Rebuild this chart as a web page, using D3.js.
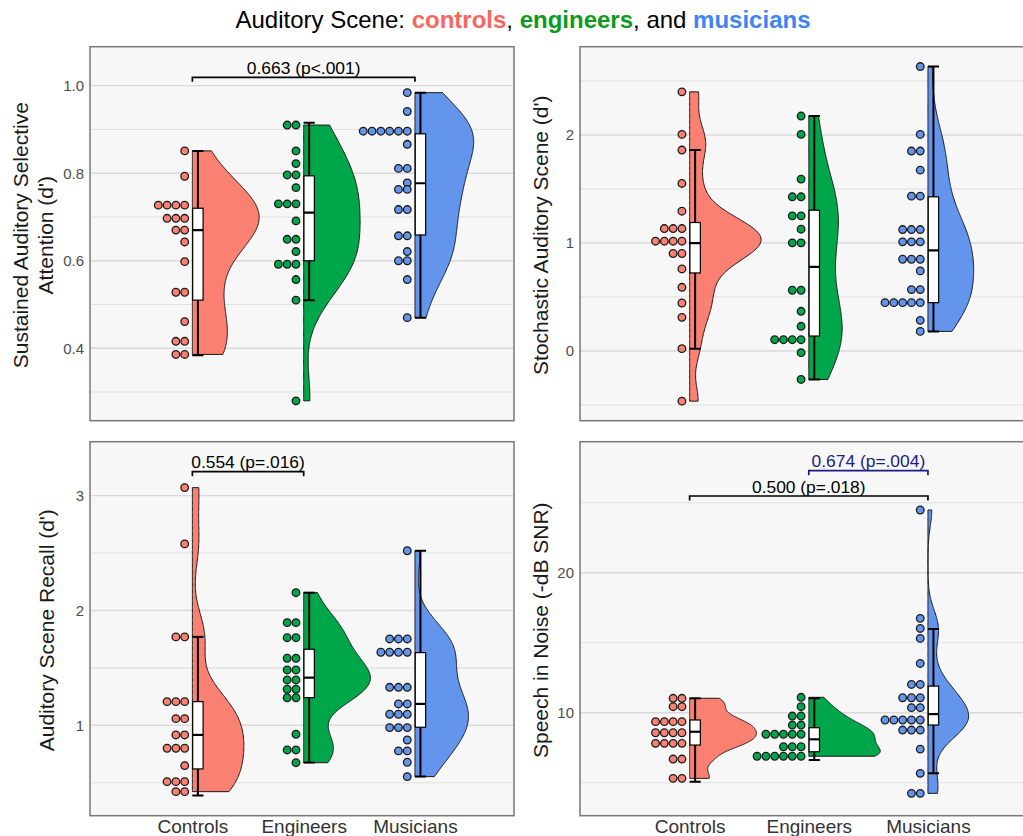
<!DOCTYPE html>
<html>
<head>
<meta charset="utf-8">
<script src="https://cdn.jsdelivr.net/npm/d3@7"></script>
<style>
  body { margin: 0; background: #fff; }
  text { font-family: "Liberation Sans", Arial, Helvetica, sans-serif; }
</style>
</head>
<body>
<svg id="chart" width="1023" height="836"></svg>
<script>
// GROUPS
var groups = ['Controls', 'Engineers', 'Musicians'];
var fills = ['#FA8072', '#00A64A', '#6495ED'];

// PANEL 1 - sustained auditory selective attention
var attnControls = [0.851, 0.793, 0.727, 0.727, 0.727, 0.727, 0.697, 0.697, 0.697, 0.670, 0.670,
	0.643, 0.598, 0.528, 0.528, 0.461, 0.416, 0.416, 0.386, 0.386];
var attnEngineers = [0.910, 0.910, 0.851, 0.822, 0.796, 0.796, 0.767, 0.730, 0.730, 0.730, 0.691,
	0.649, 0.649, 0.621, 0.592, 0.592, 0.592, 0.557, 0.510, 0.280];
var attnMusicians = [0.984, 0.941, 0.896, 0.896, 0.896, 0.896, 0.896, 0.896, 0.866, 0.811, 0.811,
	0.778, 0.763, 0.763, 0.717, 0.717, 0.657, 0.657, 0.621, 0.600, 0.600, 0.557, 0.470];
// box stats: [lower whisker, q1, median, q3, upper whisker]
var attnBoxes = [[0.384, 0.510, 0.670, 0.720, 0.851], [0.510, 0.600, 0.710, 0.794, 0.915], [0.470, 0.659, 0.777, 0.890, 0.984]];
var attnDomain = [0.2346, 1.089];
var attnTicks = [0.4, 0.6, 0.8, 1.0];
var attnMinor = [0.3, 0.5, 0.7, 0.9];
var attnBrackets = [{from: 0, to: 2, at: 1.019, label: '0.663 (p<.001)', color: '#000'}];

// PANEL 2 - stochastic auditory scene
var stochControls = [2.40, 2.006, 1.861, 1.552, 1.295, 1.134, 1.134, 1.134, 1.017, 1.017, 1.017, 1.017,
	0.903, 0.903, 0.760, 0.590, 0.445, 0.312, 0.022, -0.464];
var stochEngineers = [2.176, 2.006, 1.592, 1.428, 1.428, 1.252, 1.252, 1.128, 1.002, 1.002, 0.563, 0.563,
	0.368, 0.229, 0.105, 0.105, 0.105, 0.105, -0.015, -0.263];
var stochMusicians = [2.634, 2.006, 1.852, 1.852, 1.675, 1.434, 1.434, 1.125, 1.125, 1.125, 1.011, 1.011, 1.011,
	0.850, 0.850, 0.850, 0.742, 0.569, 0.569, 0.448, 0.448, 0.448, 0.448, 0.448, 0.284, 0.182];
var stochBoxes = [[0.022, 0.723, 1.0, 1.19, 1.861], [-0.263, 0.139, 0.779, 1.304, 2.176], [0.182, 0.448, 0.933, 1.428, 2.634]];
var stochDomain = [-0.645, 2.818];
var stochTicks = [0, 1, 2];
var stochMinor = [-0.5, 0.5, 1.5, 2.5];
var stochBrackets = [];

// PANEL 3 - auditory scene recall
var recallControls = [3.07, 2.58, 1.77, 1.77, 1.206, 1.206, 1.206, 1.058, 1.058, 0.916, 0.916,
	0.800, 0.800, 0.800, 0.649, 0.509, 0.509, 0.509, 0.422, 0.422];
var recallEngineers = [2.155, 1.894, 1.894, 1.763, 1.763, 1.584, 1.584, 1.482, 1.482, 1.395, 1.395,
	1.314, 1.314, 1.240, 1.240, 0.922, 0.785, 0.785, 0.674];
var recallMusicians = [2.52, 1.752, 1.752, 1.752, 1.636, 1.636, 1.636, 1.636, 1.331, 1.331, 1.331,
	1.186, 1.186, 1.096, 1.096, 1.096, 0.980, 0.980, 0.980, 0.872, 0.777, 0.777, 0.678, 0.553];
var recallBoxes = [[0.388, 0.62, 0.916, 1.206, 1.77], [0.675, 1.241, 1.415, 1.662, 2.155], [0.553, 0.983, 1.186, 1.633, 2.52]];
var recallDomain = [0.2125, 3.470];
var recallTicks = [1, 2, 3];
var recallMinor = [0.5, 1.5, 2.5];
var recallBrackets = [{from: 0, to: 1, at: 3.209, label: '0.554 (p=.016)', color: '#000'}];

// PANEL 4 - speech in noise
var sinControls = [11.03, 11.03, 10.43, 10.43, 9.36, 9.36, 9.36, 9.36, 8.57, 8.57, 8.57, 8.57,
	7.81, 7.81, 7.81, 7.81, 6.69, 6.69, 5.31, 5.31];
var sinEngineers = [11.1, 10.43, 9.76, 9.76, 9.12, 9.12, 8.46, 8.46, 8.46, 8.46, 8.46,
	7.57, 7.57, 7.57, 6.89, 6.89, 6.89, 6.89, 6.89, 6.89];
var sinMusicians = [24.48, 16.74, 16.02, 15.31, 13.52, 12.02, 12.02, 11.07, 11.07, 11.07, 10.36, 10.36,
	9.48, 9.48, 9.48, 9.48, 9.48, 8.76, 8.76, 8.76, 7.40, 5.67, 4.24, 4.24];
var sinBoxes = [[5.07, 7.69, 8.64, 9.48, 11.03], [6.62, 7.21, 8.10, 8.93, 11.03], [5.67, 9.12, 9.90, 11.9, 15.98]];
var sinDomain = [2.643, 29.36];
var sinTicks = [10, 20];
var sinMinor = [5, 15, 25];
var sinBrackets = [
	{from: 0, to: 2, at: 25.48, label: '0.500 (p=.018)', color: '#000'},
	{from: 1, to: 2, at: 27.29, label: '0.674 (p=.004)', color: '#1c1c85'}
];

// LAYOUT
var panels = [
	{x0: 90, x1: 514, y0: 46.7, y1: 420.7, series: [attnControls, attnEngineers, attnMusicians], boxes: attnBoxes,
		domain: attnDomain, ticks: attnTicks, minor: attnMinor, brackets: attnBrackets, fmt: d3.format('.1f'),
		title: ['Sustained Auditory Selective', "Attention (d')"], titleX: [20.7, 45], xLabels: false},
	{x0: 580, x1: 1034, y0: 46.7, y1: 420.7, series: [stochControls, stochEngineers, stochMusicians], boxes: stochBoxes,
		domain: stochDomain, ticks: stochTicks, minor: stochMinor, brackets: stochBrackets, fmt: d3.format('d'),
		title: ["Stochastic Auditory Scene (d')"], titleX: [540.7], xLabels: false},
	{x0: 90, x1: 514, y0: 441.7, y1: 815.7, series: [recallControls, recallEngineers, recallMusicians], boxes: recallBoxes,
		domain: recallDomain, ticks: recallTicks, minor: recallMinor, brackets: recallBrackets, fmt: d3.format('d'),
		title: ["Auditory Scene Recall (d')"], titleX: [46.7], xLabels: true},
	{x0: 580, x1: 1034, y0: 441.7, y1: 815.7, series: [sinControls, sinEngineers, sinMusicians], boxes: sinBoxes,
		domain: sinDomain, ticks: sinTicks, minor: sinMinor, brackets: sinBrackets, fmt: d3.format('d'),
		title: ['Speech in Noise (-dB SNR)'], titleX: [540.7], xLabels: true}
];

var svg = d3.select('#chart');

// TITLE
var title = svg.append('text')
	.attr('x', 523).attr('y', 28)
	.attr('text-anchor', 'middle')
	.style('font-size', '24px');
title.append('tspan').text('Auditory Scene: ');
title.append('tspan').attr('fill', '#F8675F').attr('font-weight', 'bold').text('controls');
title.append('tspan').text(', ');
title.append('tspan').attr('fill', '#0E9A1E').attr('font-weight', 'bold').text('engineers');
title.append('tspan').text(', and ');
title.append('tspan').attr('fill', '#3D85F2').attr('font-weight', 'bold').text('musicians');

// kernel density, bandwidth like R's nrd0
function bwNrd0(x) {
	var s = d3.deviation(x);
	var sorted = x.slice().sort(d3.ascending);
	var iqr = d3.quantile(sorted, 0.75) - d3.quantile(sorted, 0.25);
	var lo = Math.min(s, iqr / 1.34);
	if (!lo) lo = s || 1;
	return 0.9 * lo * Math.pow(x.length, -0.2);
}
function kde(x) {
	var bw = bwNrd0(x);
	var ext = d3.extent(x);
	var pts = [];
	for (var i = 0; i <= 256; i++) {
		var v = ext[0] + (ext[1] - ext[0]) * i / 256;
		var dens = d3.mean(x, function(xi) {
			var z = (v - xi) / bw;
			return Math.exp(-0.5 * z * z) / (bw * Math.sqrt(2 * Math.PI));
		});
		pts.push({v: v, d: dens});
	}
	return pts;
}

panels.forEach(function(p) {
	var step = (p.x1 - p.x0) / 3.81;
	var xScale = d3.scaleLinear().domain([0, 2]).range([p.x0 + 0.92 * step, p.x0 + 2.92 * step]);
	var yScale = d3.scaleLinear().domain(p.domain).range([p.y1, p.y0]);
	var clipId = 'clip' + p.x0 + '_' + Math.round(p.y0);

	svg.append('clipPath').attr('id', clipId)
		.append('rect')
		.attr('x', p.x0).attr('y', p.y0)
		.attr('width', p.x1 - p.x0).attr('height', p.y1 - p.y0);

	var g = svg.append('g').attr('clip-path', 'url(#' + clipId + ')');

	// background
	g.append('rect')
		.attr('x', p.x0).attr('y', p.y0)
		.attr('width', p.x1 - p.x0).attr('height', p.y1 - p.y0)
		.attr('fill', '#F7F7F7');

	// grid
	g.selectAll('.minor').data(p.minor).enter().append('line')
		.attr('x1', p.x0).attr('x2', p.x1)
		.attr('y1', function(d) { return yScale(d); })
		.attr('y2', function(d) { return yScale(d); })
		.attr('stroke', '#E0E0E0').attr('stroke-width', 1.1);
	g.selectAll('.major').data(p.ticks).enter().append('line')
		.attr('x1', p.x0).attr('x2', p.x1)
		.attr('y1', function(d) { return yScale(d); })
		.attr('y2', function(d) { return yScale(d); })
		.attr('stroke', '#DADADA').attr('stroke-width', 1.4);

	// violins (scaled by area: max density across the panel)
	var dens = p.series.map(kde);
	var maxD = d3.max(dens, function(ds) { return d3.max(ds, function(d) { return d.d; }); });
	var halfMax = 0.6 * step;

	dens.forEach(function(ds, i) {
		var cx = xScale(i);
		var area = d3.area()
			.y(function(d) { return yScale(d.v); })
			.x0(cx)
			.x1(function(d) { return cx + d.d / maxD * halfMax; })
			.curve(d3.curveLinear);
		g.append('path')
			.attr('d', area(ds))
			.attr('fill', fills[i])
			.attr('stroke', '#1a1a1a')
			.attr('stroke-width', 1)
			.attr('stroke-linejoin', 'round');
	});

	// dots, stacked leftwards by value
	p.series.forEach(function(s, i) {
		var cx = xScale(i);
		var bins = d3.groups(s, function(d) { return d; });
		var dots = [];
		bins.forEach(function(b) {
			b[1].forEach(function(v, k) { dots.push({v: v, k: k}); });
		});
		g.selectAll(null).data(dots).enter().append('circle')
			.attr('cx', function(d) { return cx - 7.7 - d.k * 8.8; })
			.attr('cy', function(d) { return yScale(d.v); })
			.attr('r', 3.8)
			.attr('fill', fills[i])
			.attr('stroke', '#1a1a1a')
			.attr('stroke-width', 1.3);
	});

	// boxes
	p.boxes.forEach(function(b, i) {
		var bx = xScale(i) + 5.5;
		g.append('line')
			.attr('x1', bx).attr('x2', bx)
			.attr('y1', yScale(b[0])).attr('y2', yScale(b[4]))
			.attr('stroke', '#000').attr('stroke-width', 2);
		[b[0], b[4]].forEach(function(w) {
			g.append('line')
				.attr('x1', bx - 5.6).attr('x2', bx + 5.6)
				.attr('y1', yScale(w)).attr('y2', yScale(w))
				.attr('stroke', '#000').attr('stroke-width', 2);
		});
		g.append('rect')
			.attr('x', bx - 5.2).attr('width', 10.4)
			.attr('y', yScale(b[3])).attr('height', yScale(b[1]) - yScale(b[3]))
			.attr('fill', '#fff').attr('stroke', '#000').attr('stroke-width', 1.2);
		g.append('line')
			.attr('x1', bx - 5.2).attr('x2', bx + 5.2)
			.attr('y1', yScale(b[2])).attr('y2', yScale(b[2]))
			.attr('stroke', '#000').attr('stroke-width', 2.2);
	});

	// significance brackets
	p.brackets.forEach(function(br) {
		var xa = xScale(br.from), xb = xScale(br.to), yb = yScale(br.at);
		g.append('path')
			.attr('d', 'M' + xa + ',' + (yb + 4.5) + 'V' + yb + 'H' + xb + 'V' + (yb + 4.5))
			.attr('fill', 'none')
			.attr('stroke', br.color)
			.attr('stroke-width', 1.7);
		g.append('text')
			.attr('x', (xa + xb) / 2).attr('y', yb - 3.5)
			.attr('text-anchor', 'middle')
			.attr('fill', br.color)
			.style('font-size', '17.4px')
			.text(br.label);
	});

	// border
	svg.append('rect')
		.attr('x', p.x0).attr('y', p.y0)
		.attr('width', p.x1 - p.x0).attr('height', p.y1 - p.y0)
		.attr('fill', 'none').attr('stroke', '#777').attr('stroke-width', 1.5);

	// y axis
	var yAxis = d3.axisLeft(yScale).tickValues(p.ticks).tickFormat(p.fmt).tickSize(0).tickPadding(6);
	var ya = svg.append('g')
		.attr('transform', 'translate(' + p.x0 + ',0)')
		.call(yAxis);
	ya.select('.domain').remove();
	ya.selectAll('text')
		.attr('fill', '#4D4D4D')
		.style('font-size', '15px')
		.style('font-family', '"Liberation Sans", Arial, sans-serif');

	// x axis (bottom row only)
	if (p.xLabels) {
		var xAxis = d3.axisBottom(xScale).tickValues([0, 1, 2])
			.tickFormat(function(d) { return groups[d]; })
			.tickSize(0).tickPadding(4);
		var xa = svg.append('g')
			.attr('transform', 'translate(0,' + p.y1 + ')')
			.call(xAxis);
		xa.select('.domain').remove();
		xa.selectAll('text')
			.attr('fill', '#333')
			.style('font-size', '19px')
			.style('font-family', '"Liberation Sans", Arial, sans-serif');
	}

	// axis title
	var yc = (p.y0 + p.y1) / 2 + 1.5;
	p.title.forEach(function(t, k) {
		svg.append('text')
			.attr('transform', 'translate(' + p.titleX[k] + ',' + yc + ') rotate(-90)')
			.attr('text-anchor', 'middle')
			.attr('dominant-baseline', 'central')
			.attr('fill', '#1a1a1a')
			.style('font-size', '21px')
			.text(t);
	});
});
</script>
</body>
</html>
